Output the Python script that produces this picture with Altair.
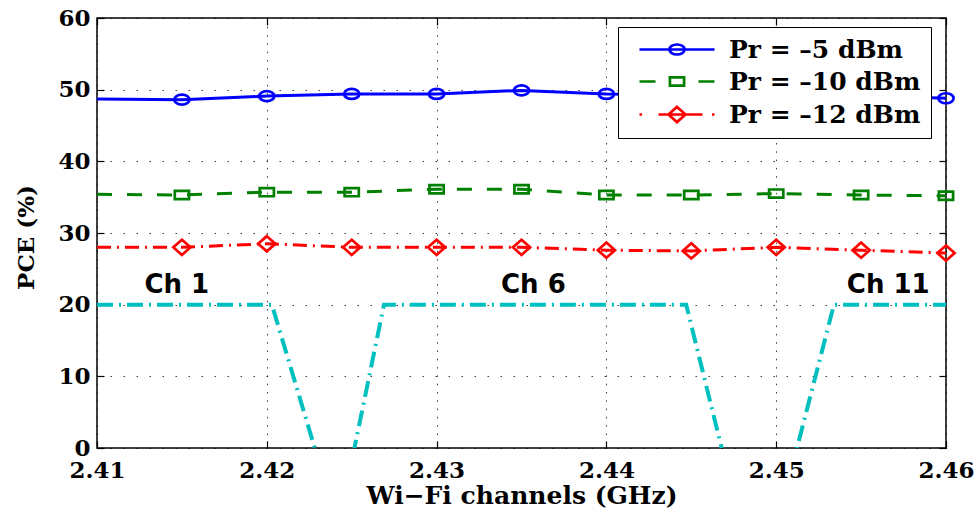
import altair as alt
import pandas as pd

# Wi-Fi frequency grid (GHz)
freq = [2.41, 2.415, 2.42, 2.425, 2.43, 2.435, 2.44, 2.445, 2.45, 2.455, 2.46]

# Power conversion efficiency (%) for each received power level
pce_m5 = [48.7, 48.6, 49.1, 49.4, 49.4, 49.9, 49.4, 49.3, 49.1, 49.2, 48.8]
pce_m10 = [35.4, 35.3, 35.7, 35.7, 36.1, 36.1, 35.3, 35.3, 35.5, 35.3, 35.2]
pce_m12 = [28.0, 28.0, 28.5, 28.0, 28.0, 28.0, 27.6, 27.5, 28.0, 27.6, 27.2]

series_names = ["Pr = –5 dBm", "Pr = –10 dBm", "Pr = –12 dBm"]
series_colors = ["#0000ff", "#008000", "#ff0000"]

# Channel spectrum outline (Ch 1 / Ch 6 / Ch 11 passbands)
mask_freq = [2.41, 2.4203, 2.4232, 2.4249, 2.4269, 2.4447, 2.4471, 2.4509, 2.4534, 2.46]
mask_level = [20, 20, -3, -3, 20, 20, -3, -3, 20, 20]

ch_labels = ["Ch 1", "Ch 6", "Ch 11"]
ch_freq = [2.4147, 2.4357, 2.4566]
ch_level = [22.8, 22.8, 22.8]

x_ticks = [2.41, 2.42, 2.43, 2.44, 2.45, 2.46]
y_ticks = [0, 10, 20, 30, 40, 50, 60]

SERIF = "DejaVu Serif"
SANS = "DejaVu Sans"


# Marker outlines as SVG paths (unit space, scaled by the symbol size)
def ellipse(cx, rx, ry):
    return f"M{cx - rx},0A{rx},{ry} 0 1,0 {cx + rx},0A{rx},{ry} 0 1,0 {cx - rx},0Z"


def box(cx, a, b):
    return f"M{cx - a},{-b}H{cx + a}V{b}H{cx - a}Z"


def diamond(cx, a, b):
    return f"M{cx},{-b}L{cx + a},0L{cx},{b}L{cx - a},0Z"


markers = [ellipse(0, 1.52, 1.0), box(0, 1.42, 0.82), diamond(0, 1.72, 1.52)]
legend_symbols = [
    "M-0.2,0H14.8" + ellipse(7.3, 1.52, 1.0),
    "M-0.2,0H3M11.6,0H14.8" + box(7.3, 1.42, 0.82),
    "M-0.2,0H0.3M3.6,0H12.4M14.3,0H14.8" + diamond(7.3, 1.72, 1.52),
]
dashes = [None, [15, 15], [14, 6, 2, 6]]

x_scale = alt.Scale(domain=[2.41, 2.46], nice=False, zero=False)
y_scale = alt.Scale(domain=[0, 60], nice=False)

main_x_axis = alt.Axis(
    values=x_ticks, format=".2f", title="Wi−Fi channels (GHz)",
    labelFont=SERIF, labelFontSize=23, labelFontWeight="bold", labelColor="black",
    labelBaseline="alphabetic", labelPadding=29, labelFlush=False, labelOverlap=False,
    ticks=False, tickSize=0, domain=False,
    grid=True, gridColor="black", gridOpacity=0.75, gridWidth=1, gridDash=[1.5, 6.8],
    titleFont=SERIF, titleFontSize=25, titleFontWeight="bold", titleColor="black",
    titleBaseline="alphabetic", titleY=55,
)
main_y_axis = alt.Axis(
    values=y_ticks, title="PCE (%)",
    labelFont=SERIF, labelFontSize=23, labelFontWeight="bold", labelColor="black",
    labelBaseline="middle", labelPadding=7, labelFlush=False, labelOverlap=False,
    ticks=False, tickSize=0, domain=False,
    grid=True, gridColor="black", gridOpacity=0.75, gridWidth=1, gridDash=[1.5, 11.5],
    titleFont=SERIF, titleFontSize=23, titleFontWeight="bold", titleColor="black",
    titleAngle=-90, titleAlign="center", titleBaseline="middle", titleX=-71, titleY=219,
)


def tick_axis(orient, values):
    # inward-pointing tick marks on one side of the frame
    return alt.Axis(
        orient=orient, values=values, offset=-7, tickSize=7, ticks=True,
        tickColor="black", tickWidth=1.2, labels=False, domain=False,
        grid=False, title=None,
    )


layers = []
pce_series = [pce_m5, pce_m10, pce_m12]
for i, (name, vals, color) in enumerate(zip(series_names, pce_series, series_colors)):
    df = pd.DataFrame({"freq": freq, "pce": vals})
    line_kw = dict(color=color, strokeWidth=3, clip=True)
    if dashes[i]:
        line_kw["strokeDash"] = dashes[i]
    line = alt.Chart(df).mark_line(**line_kw).encode(
        x=alt.X("freq:Q", scale=x_scale, axis=main_x_axis if i == 0 else None),
        y=alt.Y("pce:Q", scale=y_scale, axis=main_y_axis if i == 0 else None),
    )
    pts = (
        alt.Chart(df)
        .transform_filter(alt.datum.freq > freq[0])
        .mark_point(shape=markers[i], size=100, filled=False, opacity=1,
                    strokeWidth=2.7, color=color)
        .encode(
            x=alt.X("freq:Q", scale=x_scale, axis=None),
            y=alt.Y("pce:Q", scale=y_scale, axis=None),
        )
    )
    layers += [line, pts]

mask_df = pd.DataFrame({"freq": mask_freq, "level": mask_level})
mask = alt.Chart(mask_df).mark_line(
    color="#00bfbf", strokeWidth=4, strokeDash=[16, 6, 2, 6], clip=True
).encode(
    x=alt.X("freq:Q", scale=x_scale, axis=tick_axis("bottom", x_ticks)),
    y=alt.Y("level:Q", scale=y_scale, axis=tick_axis("left", y_ticks)),
    order=alt.Order("idx:Q"),
).transform_window(idx="row_number()")

ch_df = pd.DataFrame({"label": ch_labels, "freq": ch_freq, "level": ch_level})
ch_text = alt.Chart(ch_df).mark_text(
    font=SANS, fontSize=26, fontWeight="bold", color="black",
    align="center", baseline="middle",
).encode(
    x=alt.X("freq:Q", scale=x_scale, axis=tick_axis("top", x_ticks)),
    y=alt.Y("level:Q", scale=y_scale, axis=tick_axis("right", y_ticks)),
    text="label:N",
)

legend = alt.Legend(
    title=None, orient="none", legendX=521, legendY=9, padding=10,
    fillColor="white", strokeColor="black", cornerRadius=0,
    labelFont=SERIF, labelFontSize=25, labelFontWeight="bold", labelColor="black",
    labelLimit=400, labelOffset=76, symbolSize=100, symbolStrokeWidth=2.7,
    rowPadding=6,
)
legend_df = pd.DataFrame({"series": series_names})
legend_layer = (
    alt.Chart(legend_df)
    .transform_filter("false")
    .mark_point(filled=False, opacity=1, strokeWidth=2.7)
    .encode(
        color=alt.Color("series:N", scale=alt.Scale(domain=series_names, range=series_colors),
                        legend=legend),
        shape=alt.Shape("series:N", scale=alt.Scale(domain=series_names, range=legend_symbols),
                        legend=legend),
    )
)

chart = (
    alt.layer(*layers, mask, ch_text, legend_layer)
    .resolve_axis(x="independent", y="independent")
    .properties(
        width=849, height=430, background="white",
        autosize=alt.AutoSizeParams(type="none"),
        padding={"left": 97, "top": 18, "right": 34, "bottom": 60},
    )
    .configure_view(stroke="black", strokeWidth=1.5)
)

chart.save("out.html", embed_options={"renderer": "svg", "actions": False})
